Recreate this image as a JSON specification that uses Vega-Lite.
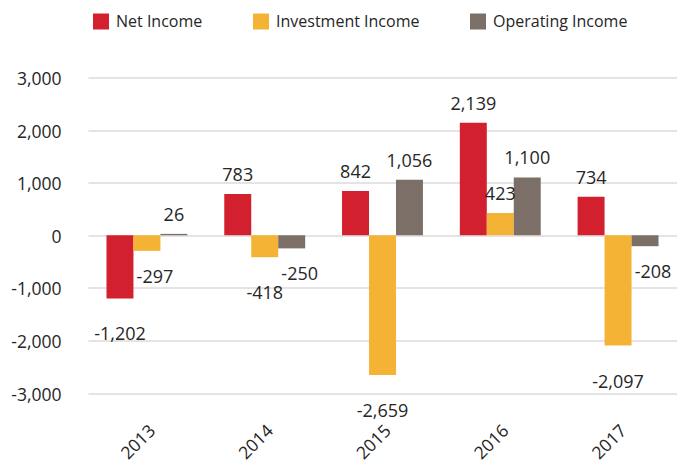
{
  "$schema": "https://vega.github.io/schema/vega-lite/v6.json",
  "autosize": {"type": "none"},
  "padding": {"left": 88, "top": 77.5, "right": 0, "bottom": 70},
  "width": 589,
  "height": 315.5,
  "background": "white",
  "config": {
    "view": {"stroke": null},
    "font": "Open Sans",
    "text": {"font": "Open Sans"}
  },
  "data": {
    "values": [
      {"year": "2013", "series": "Net Income", "value": -1202},
      {"year": "2013", "series": "Investment Income", "value": -297},
      {"year": "2013", "series": "Operating Income", "value": 26},
      {"year": "2014", "series": "Net Income", "value": 783},
      {"year": "2014", "series": "Investment Income", "value": -418},
      {"year": "2014", "series": "Operating Income", "value": -250},
      {"year": "2015", "series": "Net Income", "value": 842},
      {"year": "2015", "series": "Investment Income", "value": -2659},
      {"year": "2015", "series": "Operating Income", "value": 1056},
      {"year": "2016", "series": "Net Income", "value": 2139},
      {"year": "2016", "series": "Investment Income", "value": 423},
      {"year": "2016", "series": "Operating Income", "value": 1100},
      {"year": "2017", "series": "Net Income", "value": 734},
      {"year": "2017", "series": "Investment Income", "value": -2097},
      {"year": "2017", "series": "Operating Income", "value": -208}
    ]
  },
  "encoding": {
    "x": {
      "field": "year",
      "type": "nominal",
      "scale": {"paddingInner": 0.313, "paddingOuter": 0.157},
      "axis": {
        "title": null,
        "domain": false,
        "ticks": false,
        "grid": false,
        "labelAngle": -45,
        "labelAlign": "right",
        "labelBaseline": "middle",
        "labelPadding": 35,
        "labelOffset": 6,
        "labelFontSize": 17.5,
        "labelColor": "#262626",
        "labelFont": "Open Sans"
      }
    },
    "xOffset": {
      "field": "series",
      "type": "nominal",
      "sort": ["Net Income", "Investment Income", "Operating Income"]
    },
    "y": {
      "field": "value",
      "type": "quantitative",
      "scale": {"domain": [-3000, 3000], "nice": false},
      "axis": {
        "title": null,
        "domain": false,
        "ticks": false,
        "values": [-3000, -2000, -1000, 0, 1000, 2000, 3000],
        "labelExpr": "replace(format(datum.value, ','), '\u2212', '-')",
        "labelPadding": 27,
        "labelOffset": 2,
        "labelFontSize": 17.5,
        "labelColor": "#262626",
        "labelFont": "Open Sans",
        "gridColor": "#dddada",
        "gridWidth": 1.5
      }
    }
  },
  "layer": [
    {
      "mark": {"type": "bar"},
      "encoding": {
        "color": {
          "field": "series",
          "type": "nominal",
          "scale": {
            "domain": ["Net Income", "Investment Income", "Operating Income"],
            "range": ["#D2202F", "#F5B335", "#7B6F67"]
          },
          "legend": {
            "title": null,
            "orient": "none",
            "direction": "horizontal",
            "legendX": 5,
            "legendY": -64,
            "padding": 0,
            "symbolType": "square",
            "symbolSize": 256,
            "symbolStrokeWidth": 0,
            "labelOffset": 7,
            "columnPadding": 50,
            "labelFontSize": 16,
            "labelFont": "Open Sans",
            "labelColor": "#262626"
          }
        }
      }
    },
    {
      "transform": [{"filter": "datum.value >= 0"}],
      "mark": {"type": "text", "baseline": "alphabetic", "dy": -13, "fontSize": 18, "color": "#262626"},
      "encoding": {
        "text": {"value": {"expr": "replace(format(datum.value, ','), '\u2212', '-')"}}
      }
    },
    {
      "transform": [{"filter": "datum.value <= -400"}],
      "mark": {"type": "text", "baseline": "top", "dy": 28, "fontSize": 18, "color": "#262626"},
      "encoding": {
        "text": {"value": {"expr": "replace(format(datum.value, ','), '\u2212', '-')"}}
      }
    },
    {
      "transform": [{"filter": "datum.value < 0 && datum.value > -400"}],
      "mark": {"type": "text", "baseline": "top", "dy": 18, "dx": 8, "fontSize": 18, "color": "#262626"},
      "encoding": {
        "text": {"value": {"expr": "replace(format(datum.value, ','), '\u2212', '-')"}}
      }
    }
  ]
}
